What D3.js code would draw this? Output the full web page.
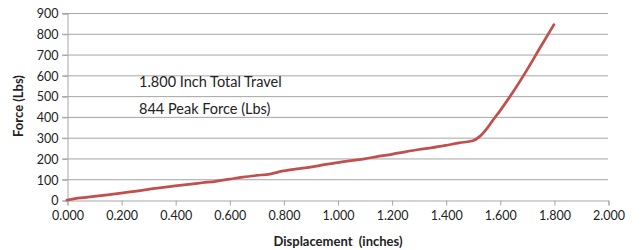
<!DOCTYPE html>
<html>
<head>
<meta charset="utf-8">
<script src="https://cdn.jsdelivr.net/npm/d3@7"></script>
<style>
  body { margin: 0; background: #fff; }
  text { font-family: Lato, "Open Sans", sans-serif; fill: #222; white-space: pre; }
</style>
</head>
<body>
<div class="grafico"></div>
<script>
// displacement (inches) and force (lbs)
var desplazamiento = [0.000, 0.050, 0.100, 0.150, 0.200, 0.250, 0.300, 0.350, 0.400, 0.450,
  0.500, 0.550, 0.600, 0.650, 0.700, 0.750, 0.800, 0.850, 0.900, 0.950, 1.000, 1.050,
  1.100, 1.150, 1.200, 1.250, 1.300, 1.350, 1.400, 1.450, 1.500, 1.525, 1.550, 1.575,
  1.600, 1.650, 1.700, 1.750, 1.800];
var fuerza = [0, 10, 18, 25, 33, 42, 51, 60, 68, 75,
  83, 90, 100, 110, 118, 125, 140, 150, 158, 170, 180, 190,
  198, 210, 220, 232, 243, 252, 263, 275, 285, 305, 340, 385,
  428, 522, 625, 735, 844];
var ticksX = [0, 0.2, 0.4, 0.6, 0.8, 1.0, 1.2, 1.4, 1.6, 1.8, 2.0];
var ticksY = [0, 100, 200, 300, 400, 500, 600, 700, 800, 900];
var notas = ["1.800 Inch Total Travel", "844 Peak Force (Lbs)"];

var svg = d3.select('.grafico')
  .append('svg')
  .attr('width', 641)
  .attr('height', 250);

const xScale = d3.scaleLinear().domain([0, 2]).range([67, 608]);
const yScale = d3.scaleLinear().domain([0, 900]).range([200, 13]);

// gridlines
svg.append('g')
  .selectAll('line')
  .data(ticksY.slice(1))
  .enter()
  .append('line')
  .attr('x1', 62)
  .attr('x2', 608)
  .attr('y1', d => yScale(d) + 0.5)
  .attr('y2', d => yScale(d) + 0.5)
  .attr('stroke', '#a6a6a6')
  .attr('stroke-width', 1);

const xAxis = d3.axisBottom(xScale).tickValues(ticksX).tickFormat(d3.format('.3f')).tickSizeOuter(0).tickSize(5).tickPadding(6);
const yAxis = d3.axisLeft(yScale).tickValues(ticksY).tickFormat(d3.format('d')).tickSizeOuter(0).tickSize(5).tickPadding(4);

var gx = svg.append('g')
  .attr('transform', 'translate(0.5, 200.5)')
  .call(xAxis);
var gy = svg.append('g')
  .attr('transform', 'translate(67.5, 0.5)')
  .call(yAxis);

[gx, gy].forEach(function (g) {
  g.select('.domain').attr('stroke', '#a6a6a6');
  g.selectAll('.tick line').attr('stroke', '#a6a6a6');
  g.selectAll('.tick text').attr('font-size', 12.5).style('fill', '#222');
});
gy.selectAll('.tick text').attr('dy', '0.35em');

var puntos = desplazamiento.map(function (d, i) { return [d, fuerza[i]]; });

svg.append('path')
  .datum(puntos)
  .attr('fill', 'none')
  .attr('stroke', '#c0504d')
  .attr('stroke-width', 2.75)
  .attr('stroke-linejoin', 'round')
  .attr('stroke-linecap', 'round')
  .attr('d', d3.line()
    .x(d => xScale(d[0]))
    .y(d => yScale(d[1]))
    .curve(d3.curveMonotoneX));

svg.append('text')
  .attr('x', 338)
  .attr('y', 246)
  .attr('text-anchor', 'middle')
  .attr('font-size', 13)
  .attr('font-weight', 'bold')
  .text('Displacement  (inches)');

svg.append('text')
  .attr('transform', 'translate(23, 106) rotate(-90)')
  .attr('text-anchor', 'middle')
  .attr('font-size', 13)
  .attr('font-weight', 'bold')
  .text('Force (Lbs)');

svg.selectAll('.nota')
  .data(notas)
  .enter()
  .append('text')
  .attr('class', 'nota')
  .attr('x', 139)
  .attr('y', (d, i) => 87 + i * 27)
  .attr('font-size', 14.5)
  .text(d => d);
</script>
</body>
</html>
